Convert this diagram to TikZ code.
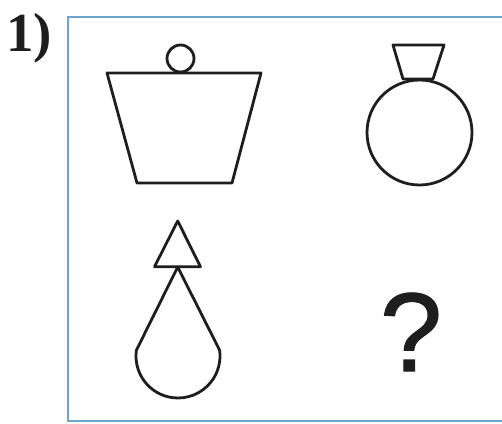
\documentclass[tikz,border=0pt]{standalone}
\usepackage{fontspec}
\usetikzlibrary{calc}
\setmainfont{Liberation Serif}
\newfontfamily\qfont[FakeBold=1]{Liberation Sans}
\definecolor{framecol}{RGB}{110,165,205}
\definecolor{ink}{RGB}{30,30,30}
\begin{document}
\begin{tikzpicture}[x=1pt,y=-1pt,
  shape line/.style={draw=ink,line width=2.8pt,line join=round},
  frame line/.style={draw=framecol,line width=1.8pt}]
\useasboundingbox (0,0) rectangle (502,423);
% frame
\draw[frame line] (502,17) -- (68,17) -- (68,421) -- (502,421);
% label
\node[anchor=base west,inner sep=0pt,text=ink] (lbl) at (6,51.7)
  {\fontsize{55}{55}\selectfont\bfseries 1)};
% weight: trapezoid with ring
\draw[shape line] (107,73) -- (261,73) -- (232,183) -- (137,183) -- cycle;
\draw[shape line] (180.5,58.5) circle (13.5);
% flask
\draw[shape line] (393,45) -- (444,45) -- (433,79) -- (403,79) -- cycle;
\draw[shape line] (419.5,132.5) circle (52.5);
% triangle and cone
\draw[shape line] (177.7,221) -- (200.5,266.7) -- (154.5,266.7) -- cycle;
\coordinate (apex) at (177.7,267);
\coordinate (cc) at (178,356);
\draw[shape line] (apex) -- ($(cc)+(188:42)$) arc[start angle=188,end angle=-8,radius=42] -- cycle;
% question mark
\node[anchor=base,inner sep=0pt,text=ink] (q) at (411,371)
  {\qfont\fontsize{112}{112}\selectfont ?};
\end{tikzpicture}
\end{document}
